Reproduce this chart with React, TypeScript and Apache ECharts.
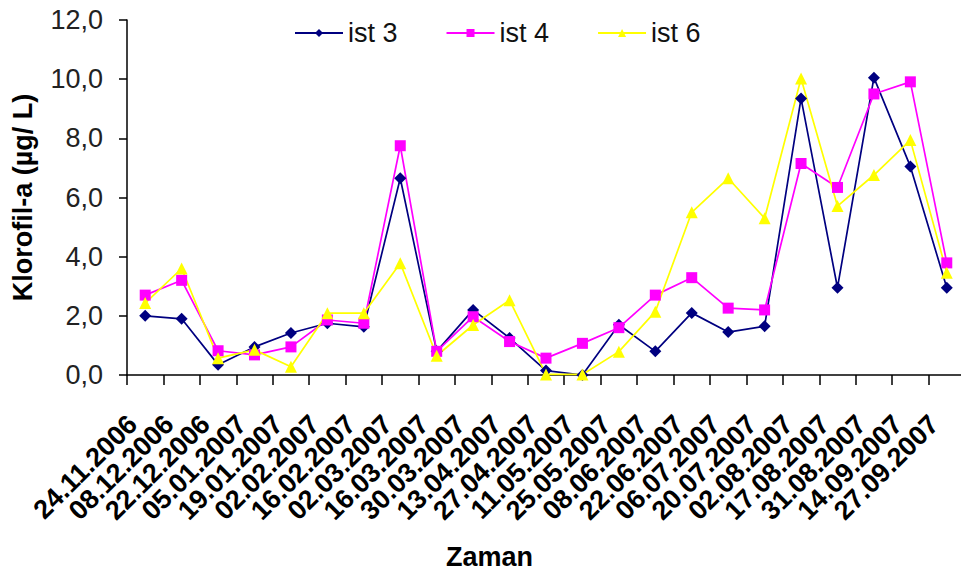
import React, { useEffect, useRef } from "react";
import * as echarts from "echarts";

// Sampling dates (x axis categories)
const dates = [
  "24.11.2006", "08.12.2006", "22.12.2006", "05.01.2007", "19.01.2007",
  "02.02.2007", "16.02.2007", "02.03.2007", "16.03.2007", "30.03.2007",
  "13.04.2007", "27.04.2007", "11.05.2007", "25.05.2007", "08.06.2007",
  "22.06.2007", "06.07.2007", "20.07.2007", "02.08.2007", "17.08.2007",
  "31.08.2007", "14.09.2007", "27.09.2007",
];

// Chlorophyll-a (µg/L) per station
const ist3 = [2.0, 1.9, 0.35, 0.95, 1.42, 1.75, 1.63, 6.65, 0.8, 2.2, 1.25, 0.15, 0.0, 1.7, 0.8, 2.1, 1.45, 1.65, 9.35, 2.95, 10.05, 7.05, 2.95];
const ist4 = [2.7, 3.2, 0.82, 0.68, 0.95, 1.86, 1.75, 7.75, 0.8, 1.97, 1.13, 0.57, 1.07, 1.6, 2.7, 3.29, 2.26, 2.2, 7.15, 6.34, 9.5, 9.91, 3.79];
const ist6 = [2.43, 3.6, 0.57, 0.85, 0.28, 2.09, 2.09, 3.78, 0.65, 1.69, 2.53, 0.02, 0.02, 0.79, 2.14, 5.5, 6.65, 5.3, 10.02, 5.71, 6.76, 7.94, 3.46];

const seriesNames = ["ist 3", "ist 4", "ist 6"];
const xTitle = "Zaman";
const yTitle = "Klorofil-a (µg/ L)";

const FONT = "'Liberation Sans', Arial, sans-serif";

export default function App() {
  const ref = useRef<HTMLDivElement>(null);

  useEffect(() => {
    if (!ref.current) return;
    const chart = echarts.init(ref.current, undefined, { renderer: "svg" });

    const lineSeries = (name: string, data: number[], color: string, symbol: string, size: number) => ({
      name,
      type: "line",
      data,
      symbol,
      symbolSize: size,
      showSymbol: true,
      lineStyle: { color, width: 1.7 },
      itemStyle: { color },
      emphasis: { disabled: true },
    });

    chart.setOption({
      animation: false,
      backgroundColor: "#ffffff",
      textStyle: { fontFamily: FONT },
      legend: {
        data: seriesNames,
        left: 289,
        top: 14,
        itemWidth: 48,
        itemHeight: 10,
        itemGap: 48,
        textStyle: { fontFamily: FONT, fontSize: 27, color: "#111", lineHeight: 28 },
      },
      grid: {
        left: 127,
        top: 20,
        right: -4,
        bottom: 200,
        containLabel: false,
        outerBoundsMode: "none",
      },
      graphic: [
        {
          type: "text",
          left: 446,
          top: 543,
          style: {
            text: xTitle,
            fontFamily: FONT,
            fontSize: 27,
            fontWeight: "bold",
            fill: "#000",
          },
        },
      ],
      xAxis: {
        type: "category",
        data: dates,
        boundaryGap: true,
        axisLine: { lineStyle: { color: "#000", width: 1.5 } },
        axisTick: { show: true, interval: 0, length: 10, lineStyle: { color: "#000", width: 1.5 } },
        axisLabel: {
          interval: 0,
          rotate: 45,
          margin: 32,
          padding: [0, 18, 0, 0],
          fontFamily: FONT,
          fontSize: 27,
          fontWeight: "bold",
          color: "#000",
        },
        splitLine: { show: false },
      },
      yAxis: {
        type: "value",
        min: 0,
        max: 12,
        interval: 2,
        name: yTitle,
        nameLocation: "middle",
        nameGap: 91,
        nameRotate: 90,
        nameTextStyle: { fontFamily: FONT, fontSize: 27, fontWeight: "bold", color: "#000" },
        axisLine: { show: true, lineStyle: { color: "#000", width: 1.5 } },
        axisTick: { show: true, length: 8, lineStyle: { color: "#000", width: 1.5 } },
        axisLabel: {
          margin: 24,
          fontFamily: FONT,
          fontSize: 27,
          color: "#222",
          formatter: (v: number) => v.toFixed(1).replace(".", ","),
        },
        splitLine: { show: false },
      },
      series: [
        lineSeries(seriesNames[0], ist3, "#000080", "diamond", 12),
        lineSeries(seriesNames[1], ist4, "#FF00FF", "rect", 11),
        lineSeries(seriesNames[2], ist6, "#FFFF00", "triangle", 12),
      ],
    });

    return () => chart.dispose();
  }, []);

  return (
    <div
      ref={ref}
      style={{ position: "absolute", left: 0, top: 0, width: 961, height: 575 }}
    />
  );
}
